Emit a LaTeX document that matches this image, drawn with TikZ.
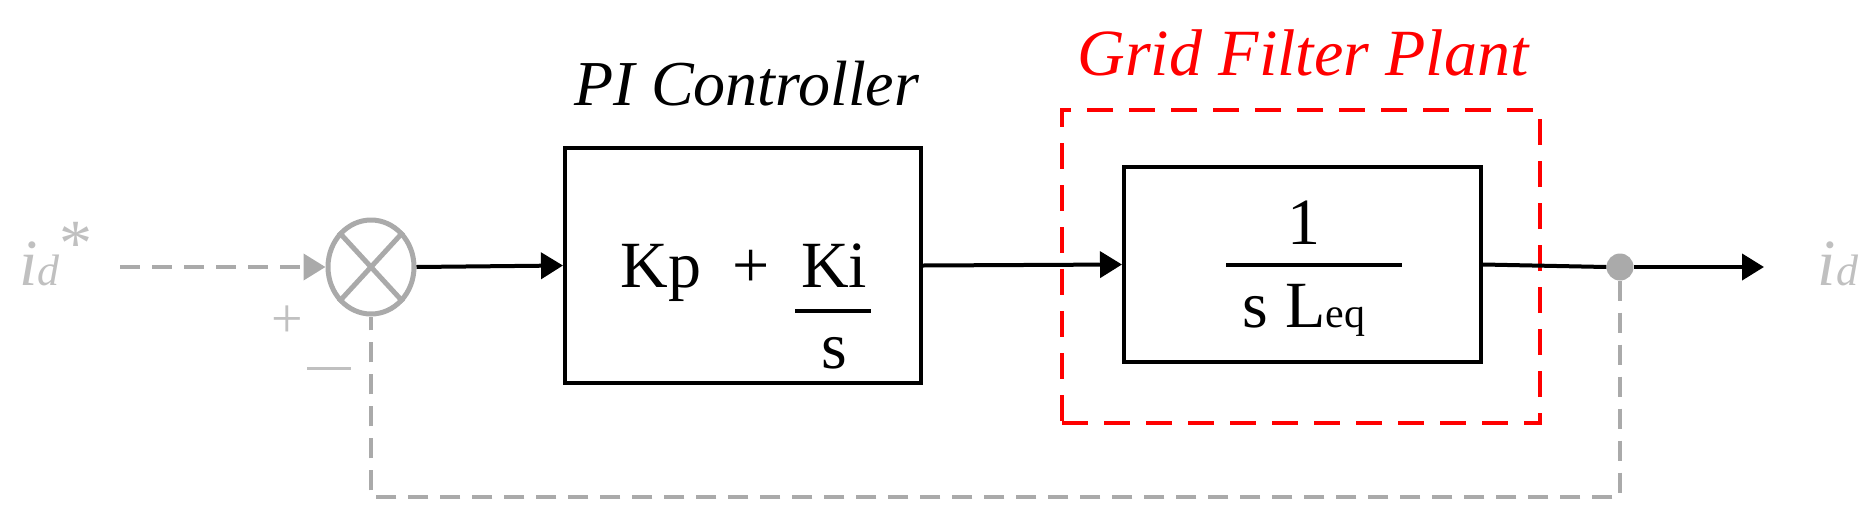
\documentclass[tikz,border=0pt]{standalone}
\usepackage{fontspec}
\setmainfont{Liberation Serif}
\usetikzlibrary{shapes.geometric,arrows.meta}
\definecolor{fbgray}{HTML}{AAAAAA}
\definecolor{txgray}{HTML}{C0C0C0}
\definecolor{plred}{HTML}{FF0000}
\begin{document}
\begin{tikzpicture}[x=1pt,y=-1pt,
  blk/.style={draw=black,line width=4pt,minimum width=#1,inner sep=0pt},
  sig/.style={draw=black,line width=4pt,-{Triangle[length=22pt,width=26pt]}},
  gsig/.style={draw=fbgray,line width=4pt,dash pattern=on 20pt off 12pt},
  txt/.style={inner sep=0pt,anchor=base,font=\fontsize{66}{70}\selectfont},
  gtxt/.style={txt,text=txgray}]
\useasboundingbox (0,0) rectangle (1875,520);
% sum junction
\node[ellipse,draw=fbgray,line width=5pt,minimum width=86pt,minimum height=94pt,inner sep=0pt] (sum) at (371,267) {};
\draw[fbgray,line width=5pt] (sum.north west) -- (sum.south east);
\draw[fbgray,line width=5pt] (sum.north east) -- (sum.south west);
% input
\node[gtxt] (ref) at (56,285) {\textit{i}\raisebox{0pt}{\fontsize{44}{44}\selectfont\textit{d}}\raisebox{20pt}{*}};
\coordinate (in) at (120,267);
\draw[gsig,-{Triangle[length=22pt,width=26pt]},fbgray] (in) -- (sum.west);
\node[gtxt,font=\fontsize{56}{56}\selectfont] (plus) at (287,337) {+};
\node[gtxt,font=\fontsize{56}{56}\selectfont] (minus) at (329,370) {\raisebox{0pt}{\rule{44pt}{3pt}}};
% PI controller
\node[blk=356pt,minimum height=235pt] (pi) at (743,265.5) {};
\node[txt,font=\fontsize{64}{70}\selectfont\itshape] (pil) at (747,105) {PI Controller};
\node[txt] (kp) at (661,287) {Kp};
\node[txt] (pl) at (751,287) {+};
\node[txt] (ki) at (834,287) {Ki};
\coordinate (b1) at (795,311);
\coordinate (b2) at (871,311);
\draw[line width=4pt] (b1) -- (b2);
\node[txt] (s1) at (834,368) {s};
\draw[sig] (sum.east) -- (pi.west);
% plant
\node[blk=357pt,minimum height=195pt] (pl2) at (1302.5,264.5) {};
\node[draw=plred,line width=4pt,dash pattern=on 26pt off 16pt,minimum width=478pt,minimum height=313pt,inner sep=0pt] (grid) at (1301,266.5) {};
\node[txt,text=plred,font=\fontsize{66}{70}\selectfont\itshape] (gl) at (1303,75) {Grid Filter Plant};
\node[txt] (one) at (1304,244) {1};
\coordinate (c1) at (1226,265);
\coordinate (c2) at (1402,265);
\draw[line width=3.5pt] (c1) -- (c2);
\node[txt] (sl) at (1304,327) {s L{\fontsize{42}{42}\selectfont eq}};
\draw[sig] (pi.east) -- (pl2.west);
% output
\node[circle,fill=fbgray,minimum size=27pt,inner sep=0pt] (dot) at (1620,267) {};
\coordinate (out) at (1764,267);
\draw[line width=4pt] (pl2.east) -- (dot.west);
\draw[sig] (dot.east) -- (out);
\node[gtxt] (idl) at (1838,285) {\textit{i}\raisebox{0pt}{\fontsize{44}{44}\selectfont\textit{d}}};
% feedback
\coordinate (f1) at (1620,497);
\coordinate (f2) at (371,497);
\draw[gsig] (dot.south) -- (f1) -- (f2) -- (sum.south);
\end{tikzpicture}
\end{document}
